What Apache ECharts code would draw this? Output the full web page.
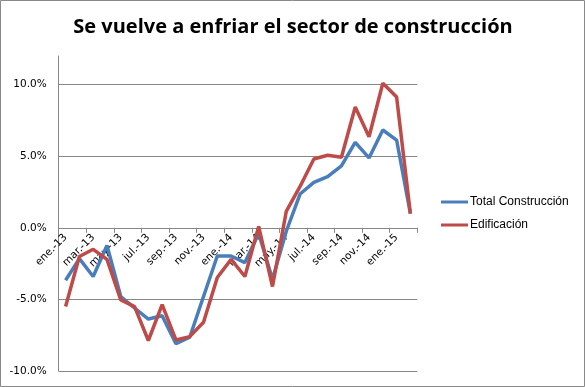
<!DOCTYPE html>
<html>
<head>
<meta charset="utf-8">
<script src="https://cdn.jsdelivr.net/npm/echarts@6/dist/echarts.min.js"></script>
<style>html,body{margin:0;padding:0;background:#fff}#c{width:585px;height:387px}</style>
</head>
<body>
<div id="c"></div>
<script>
const categories = ['ene.-13','feb.-13','mar.-13','abr.-13','may.-13','jun.-13','jul.-13','ago.-13','sep.-13','oct.-13','nov.-13','dic.-13',
  'ene.-14','feb.-14','mar.-14','abr.-14','may.-14','jun.-14','jul.-14','ago.-14','sep.-14','oct.-14','nov.-14','dic.-14',
  'ene.-15','feb.-15'];
const totalConstruccion = [-3.66,-2.15,-3.4,-1.23,-4.8,-5.6,-6.37,-6.14,-8.1,-7.64,-4.8,-1.97,
  -1.97,-2.43,-0.4,-3.6,-0.24,2.36,3.17,3.58,4.33,5.97,4.88,6.83,6.13,0.99];
const edificacion = [-5.49,-2.0,-1.5,-2.2,-5.03,-5.5,-7.87,-5.37,-7.83,-7.6,-6.6,-3.47,
  -2.2,-3.4,0.1,-4.1,1.15,2.89,4.81,5.07,4.93,8.44,6.36,10.1,9.14,0.99];
const yTicks = [-10, -5, 0, 5, 10];
const yMin = -10, yMax = 12;

const chart = echarts.init(document.getElementById('c'), null, {renderer: 'canvas'});
const gridColor = '#868686';
const gridH = 315;
chart.setOption({
  animation: false,
  backgroundColor: '#fff',
  title: {
    text: 'Se vuelve a enfriar el sector de construcción',
    left: 288, top: 12, textAlign: 'center',
    textStyle: {fontFamily: 'Open Sans', fontWeight: 'bold', fontSize: 20, color: '#000'}
  },
  graphic: [{
    type: 'rect', shape: {x: 0.5, y: 0.5, width: 584, height: 386},
    style: {fill: null, stroke: '#898989', lineWidth: 1}, silent: true, z: 100
  }],
  legend: {
    orient: 'vertical', left: 436, top: 191, itemGap: 11,
    icon: 'rect', itemWidth: 27, itemHeight: 3,
    textStyle: {fontFamily: 'Liberation Sans', fontSize: 12, color: '#000', padding: [0,0,0,-3]},
    data: ['Total Construcción', 'Edificación']
  },
  grid: {left: 58.7, top: 56, width: 358.6, height: gridH, containLabel: false, outerBoundsMode: 'none'},
  xAxis: {
    type: 'category', data: categories, boundaryGap: true, position: 'bottom',
    offset: -gridH * (0 - yMin) / (yMax - yMin),
    axisLine: {onZero: false, lineStyle: {color: gridColor, width: 1}},
    axisTick: {show: true, interval: 1, length: 5, lineStyle: {color: gridColor}},
    axisLabel: {interval: 1, rotate: 45, margin: 8, fontFamily: 'DejaVu Sans', fontSize: 10.5, color: '#000'},
    splitLine: {show: false}
  },
  yAxis: {
    type: 'value', min: yMin, max: yMax, interval: 5,
    axisLine: {show: true, onZero: false, lineStyle: {color: gridColor}},
    axisTick: {show: false},
    axisLabel: {
      fontFamily: 'DejaVu Sans', fontSize: 10.5, color: '#000', margin: 12,
      formatter: v => yTicks.includes(v) ? v.toFixed(1) + '%' : ''
    },
    splitLine: {show: true, showMaxLine: false, lineStyle: {color: gridColor, width: 1}}
  },
  series: [
    {name: 'Total Construcción', type: 'line', data: totalConstruccion, showSymbol: false, symbol: 'none',
      lineStyle: {color: '#4A7EBB', width: 3.5}, itemStyle: {color: '#4A7EBB'}},
    {name: 'Edificación', type: 'line', data: edificacion, showSymbol: false, symbol: 'none',
      lineStyle: {color: '#BE4B48', width: 3.5}, itemStyle: {color: '#BE4B48'}}
  ]
});
</script>
</body>
</html>
